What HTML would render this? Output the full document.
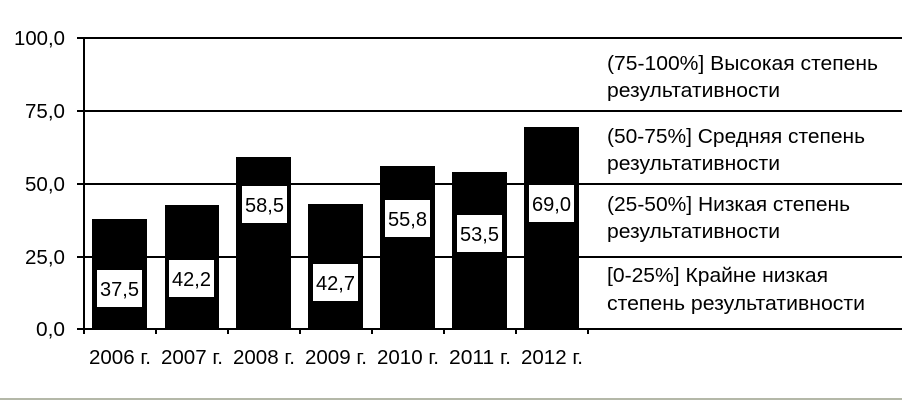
<!DOCTYPE html>
<html><head><meta charset="utf-8"><style>
html,body{margin:0;padding:0;background:#fff;width:902px;height:402px;overflow:hidden}
svg text{font-family:"Liberation Sans",sans-serif;font-size:20px;fill:#000}
</style></head><body>
<svg width="902" height="402" viewBox="0 0 902 402">
<g stroke="#000" stroke-width="2">
<line x1="77" y1="38" x2="902" y2="38"/>
<line x1="77" y1="111" x2="902" y2="111"/>
<line x1="77" y1="184" x2="902" y2="184"/>
<line x1="77" y1="257" x2="902" y2="257"/>
<line x1="77" y1="329" x2="902" y2="329"/>
<line x1="84" y1="38" x2="84" y2="334"/>
<line x1="156" y1="329" x2="156" y2="334"/>
<line x1="228" y1="329" x2="228" y2="334"/>
<line x1="300" y1="329" x2="300" y2="334"/>
<line x1="372" y1="329" x2="372" y2="334"/>
<line x1="444" y1="329" x2="444" y2="334"/>
<line x1="516" y1="329" x2="516" y2="334"/>
<line x1="588" y1="329" x2="588" y2="334"/>
</g>
<line x1="0" y1="399" x2="902" y2="399" stroke="#b4b8a8" stroke-width="2"/>
<g fill="#000">
<rect x="92" y="219" width="55" height="110"/>
<rect x="165" y="205" width="54" height="124"/>
<rect x="236" y="157" width="55" height="172"/>
<rect x="308" y="204" width="55" height="125"/>
<rect x="380" y="166" width="55" height="163"/>
<rect x="452" y="172" width="55" height="157"/>
<rect x="524" y="127" width="55" height="202"/>
</g>
<g fill="#fff">
<rect x="97" y="270" width="45" height="37"/>
<rect x="169" y="260" width="45" height="37"/>
<rect x="242" y="186" width="45" height="37"/>
<rect x="313" y="264" width="45" height="37"/>
<rect x="385" y="200" width="45" height="37"/>
<rect x="457" y="215" width="45" height="37"/>
<rect x="529" y="185" width="45" height="37"/>
</g>
<g>
<text x="100" y="296" textLength="39" lengthAdjust="spacingAndGlyphs">37,5</text>
<text x="172" y="286" textLength="39" lengthAdjust="spacingAndGlyphs">42,2</text>
<text x="245" y="212" textLength="39" lengthAdjust="spacingAndGlyphs">58,5</text>
<text x="316" y="290" textLength="39" lengthAdjust="spacingAndGlyphs">42,7</text>
<text x="388" y="226" textLength="39" lengthAdjust="spacingAndGlyphs">55,8</text>
<text x="460" y="241" textLength="39" lengthAdjust="spacingAndGlyphs">53,5</text>
<text x="532" y="211" textLength="39" lengthAdjust="spacingAndGlyphs">69,0</text>
</g>
<g>
<text x="14" y="45" textLength="51" lengthAdjust="spacingAndGlyphs">100,0</text>
<text x="25" y="118" textLength="40" lengthAdjust="spacingAndGlyphs">75,0</text>
<text x="25" y="191" textLength="40" lengthAdjust="spacingAndGlyphs">50,0</text>
<text x="25" y="264" textLength="40" lengthAdjust="spacingAndGlyphs">25,0</text>
<text x="36" y="336" textLength="29" lengthAdjust="spacingAndGlyphs">0,0</text>
</g>
<g>
<text x="89" y="364" textLength="62" lengthAdjust="spacingAndGlyphs">2006 г.</text>
<text x="161" y="364" textLength="62" lengthAdjust="spacingAndGlyphs">2007 г.</text>
<text x="233" y="364" textLength="62" lengthAdjust="spacingAndGlyphs">2008 г.</text>
<text x="305" y="364" textLength="62" lengthAdjust="spacingAndGlyphs">2009 г.</text>
<text x="377" y="364" textLength="62" lengthAdjust="spacingAndGlyphs">2010 г.</text>
<text x="449" y="364" textLength="62" lengthAdjust="spacingAndGlyphs">2011 г.</text>
<text x="521" y="364" textLength="62" lengthAdjust="spacingAndGlyphs">2012 г.</text>
</g>
<g>
<text x="607" y="70" textLength="271" lengthAdjust="spacingAndGlyphs">(75-100%] Высокая степень</text>
<text x="607" y="97" textLength="173" lengthAdjust="spacingAndGlyphs">результативности</text>
<text x="607" y="143" textLength="258" lengthAdjust="spacingAndGlyphs">(50-75%] Средняя степень</text>
<text x="607" y="170" textLength="173" lengthAdjust="spacingAndGlyphs">результативности</text>
<text x="607" y="211" textLength="243" lengthAdjust="spacingAndGlyphs">(25-50%] Низкая степень</text>
<text x="607" y="238" textLength="173" lengthAdjust="spacingAndGlyphs">результативности</text>
<text x="607" y="282" textLength="221" lengthAdjust="spacingAndGlyphs">[0-25%] Крайне низкая</text>
<text x="607" y="310" textLength="258" lengthAdjust="spacingAndGlyphs">степень результативности</text>
</g>
</svg>
</body></html>
